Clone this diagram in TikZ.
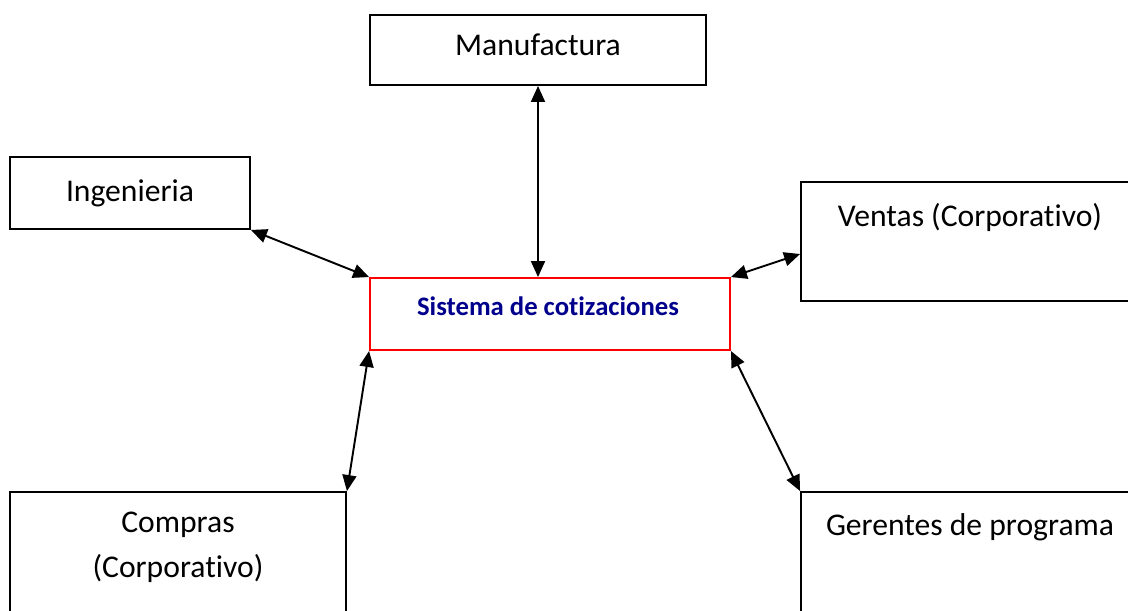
\documentclass[tikz,border=0pt]{standalone}
\usepackage{fontspec}
\setmainfont[Ligatures={NoCommon,NoRare,NoContextual}]{Carlito}
\usetikzlibrary{arrows.meta}
\definecolor{azulsis}{RGB}{0,0,140}

\begin{document}
\begin{tikzpicture}[x=0.02cm, y=-0.02cm,
	caja/.style={draw, line width=1.1pt, font=\fontsize{18}{25.6}\selectfont},
	flecha/.style={{Triangle[length=3.2mm,width=2.8mm]}-{Triangle[length=3.2mm,width=2.8mm]}, line width=1.1pt}]
	\useasboundingbox (0,0) rectangle (1128,610);
	\clip (0,0) rectangle (1128,610);
	\node[caja, minimum width=6.72cm, minimum height=1.4cm] (man) at (538,50) {};
	\node[font=\fontsize{18}{25.6}\selectfont] (mantxt) at (538,45) {Manufactura};
	\node[caja, minimum width=4.8cm, minimum height=1.44cm] (ing) at (130,193) {Ingenieria};
	\node[caja, minimum width=6.78cm, minimum height=2.38cm] (vent) at (970.5,241.5) {};
	\node[font=\fontsize{18}{25.6}\selectfont] (venttxt) at (970,217) {Ventas (Corporat\kern0pt ivo)};
	\node[draw=red, line width=1.1pt, minimum width=7.2cm, minimum height=1.44cm] (sis) at (550,314) {};
	\node[text=azulsis, font=\fontsize{15.2}{18}\selectfont\bfseries] (sistxt) at (548,306) {Sistema de cot\kern0pt izaciones};
	\node[caja, minimum width=6.72cm, minimum height=3cm] (comp) at (178,567) {};
	\node[align=center, font=\fontsize{18}{25.6}\selectfont] (comptxt) at (178,547.5) {Compras\\(Corporat\kern0pt ivo)};
	\node[caja, minimum width=6.78cm, minimum height=3cm] (ger) at (970.5,567) {};
	\node[font=\fontsize{18}{25.6}\selectfont] (gertxt) at (970,527) {Gerentes de programa};
	% conexiones con el sistema
	\draw[flecha] (man.south) -- (man.south |- sis.north);
	\draw[flecha] (ing.south east) -- (sis.north west);
	\draw[flecha] ([yshift=-0.25cm]vent.west) -- (sis.north east);
	\draw[flecha] (comp.north east) -- (sis.south west);
	\draw[flecha] (ger.north west) -- (sis.south east);
\end{tikzpicture}
\end{document}
